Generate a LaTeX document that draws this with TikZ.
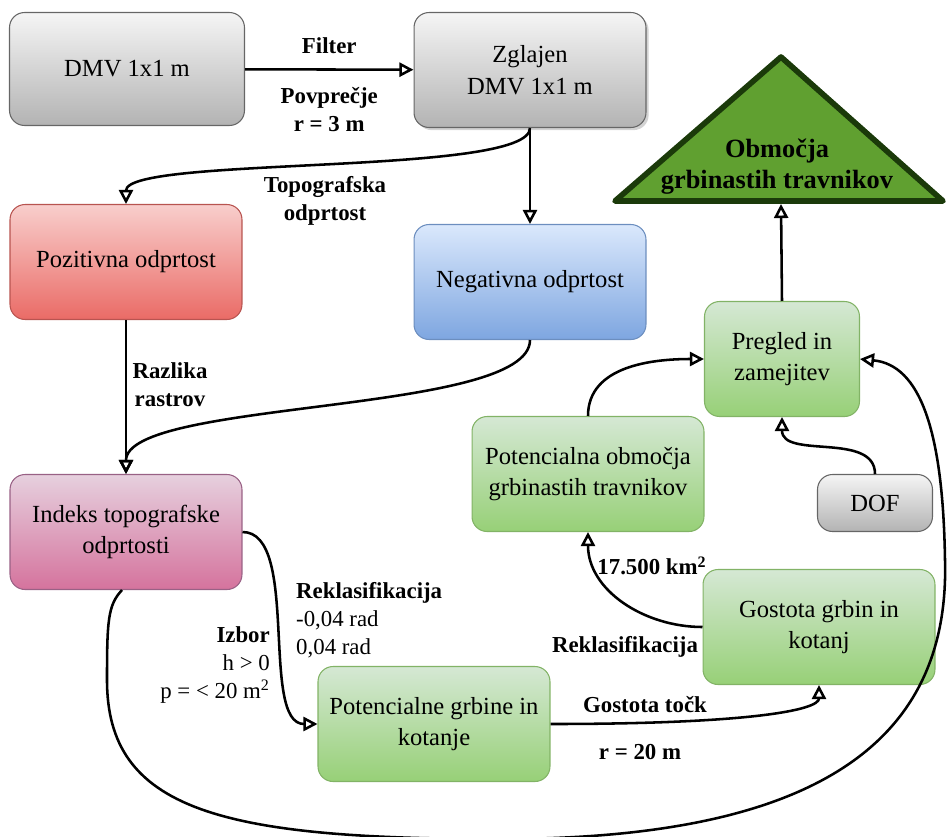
\documentclass[tikz,border=0pt]{standalone}
\usepackage{fontspec}
\setmainfont{Liberation Serif}
\usepackage{tikz}
\usetikzlibrary{arrows.meta, positioning, shadows}

\definecolor{grayTop}{HTML}{F5F5F5}
\definecolor{grayBot}{HTML}{B3B3B3}
\definecolor{grayLine}{HTML}{666666}
\definecolor{redTop}{HTML}{F8CECC}
\definecolor{redBot}{HTML}{EA6B66}
\definecolor{redLine}{HTML}{B85450}
\definecolor{blueTop}{HTML}{DAE8FC}
\definecolor{blueBot}{HTML}{7EA6E0}
\definecolor{blueLine}{HTML}{6C8EBF}
\definecolor{pinkTop}{HTML}{E6D0DE}
\definecolor{pinkBot}{HTML}{D5739D}
\definecolor{pinkLine}{HTML}{996185}
\definecolor{greenTop}{HTML}{D5E8D4}
\definecolor{greenBot}{HTML}{97D077}
\definecolor{greenLine}{HTML}{82B366}
\definecolor{goalFill}{HTML}{60A030}
\definecolor{goalLine}{HTML}{1B3A0A}

\tikzset{
    box/.style = {draw, rounded corners=0.3cm, line width=0.6pt,
        minimum width=4.64cm, minimum height=2.3cm, align=center,
        font=\fontsize{14}{18}\selectfont},
    graybox/.style = {box, draw=grayLine, top color=grayTop, bottom color=grayBot},
    redbox/.style = {box, draw=redLine, top color=redTop, bottom color=redBot},
    bluebox/.style = {box, draw=blueLine, top color=blueTop, bottom color=blueBot},
    pinkbox/.style = {box, draw=pinkLine, top color=pinkTop, bottom color=pinkBot},
    greenbox/.style = {box, draw=greenLine, top color=greenTop, bottom color=greenBot},
    lbl/.style = {font=\fontsize{13}{15.8}\selectfont\bfseries, align=center},
    txt/.style = {font=\fontsize{13}{15.8}\selectfont},
    flow/.style = {line width=1.45pt, -{Triangle[open, length=8pt, width=8pt]}},
}

\begin{document}
\begin{tikzpicture}[x=0.02cm, y=0.02cm]
    \useasboundingbox (0,0) rectangle (947,-836);

    \node (dmv) [graybox, minimum width=4.7cm, minimum height=2.26cm] at (127,-69) {DMV 1x1 m};
    \node (zg) [graybox, drop shadow={shadow xshift=1.5pt, shadow yshift=-1.5pt, opacity=0.35}] at (530,-70) {Zglajen\\DMV 1x1 m};
    \node (poz) [redbox] at (126,-262) {Pozitivna odprtost};
    \node (neg) [bluebox] at (530,-282) {Negativna odprtost};
    \node (ind) [pinkbox] at (126,-532) {Indeks topografske\\odprtosti};
    \node (pot) [greenbox] at (434,-724) {Potencialne grbine in\\kotanje};
    \node (gos) [greenbox] at (819,-627) {Gostota grbin in\\kotanj};
    \node (potob) [greenbox] at (588,-474) {Potencialna območja\\grbinastih travnikov};
    \node (preg) [greenbox, minimum width=3.1cm] at (782,-359) {Pregled in\\zamejitev};
    \node (dof) [graybox, minimum width=2.3cm, minimum height=1.14cm] at (875,-503) {DOF};

    \draw [fill=goalFill, draw=goalLine, line width=3.2pt, line join=round]
        (615,-201) -- (781,-57) -- (943,-201) -- cycle;
    \node (goal) [lbl, font=\fontsize{15}{17.6}\selectfont\bfseries] at (777,-167) {Območja\\grbinastih travnikov};
    \coordinate (goalbase) at (781,-204);

    \node (topo) [lbl] at (325,-201) {Topografska\\odprtost};
    \node (razl) [lbl] at (170,-385) {Razlika\\rastrov};
    \node (rekl) [txt, align=left, anchor=west] at (290,-620) {\textbf{Reklasifikacija}\\-0,04 rad\\0,04 rad};
    \node (izbor) [txt, align=right, anchor=east] at (276,-665) {\textbf{Izbor}\\h > 0\\p = < 20 m\textsuperscript{2}};
    \node (gtock) [lbl] at (645,-705) {Gostota točk};
    \node (rtw) [lbl] at (640,-752) {r = 20 m};
    \node (povr) [lbl] at (652,-566) {17.500 km\textsuperscript{2}};
    \node (rekl2) [lbl] at (625,-647) {Reklasifikacija};

\path [flow]
    (dmv) edge node [lbl, above=5pt] (filt) {Filter}
               node [lbl, below=6pt] (povp) {Povprečje\\r = 3 m} (zg)
    (zg.south) edge [out=-90, in=90, looseness=0.3] (poz.north)
    (zg.south) edge (neg.north)
    (poz) edge (ind)
    (neg.south) edge [out=-90, in=90, looseness=0.45] (ind.north)
    (ind.east) edge [out=0, in=180, looseness=0.72] (pot.west)
    (pot.east) edge [out=0, in=-90, out distance=4cm, in distance=0.5cm] (gos.south)
    (gos.west) edge [out=180, in=-90, looseness=1] (potob.south)
    (potob.north) edge [out=90, in=180, looseness=1] (preg.west)
    (dof.north) edge [out=90, in=-90, looseness=1] (preg.south)
    (preg.north) edge (goalbase);

\draw [flow] ([xshift=-0.08cm]ind.south) .. controls (108,-605) and (107,-620) .. (107,-680)
    .. controls (107,-810) and (220,-839) .. (500,-839)
    .. controls (820,-839) and (950,-740) .. (945,-560)
    .. controls (943,-430) and (920,-365) .. (preg.east);

\end{tikzpicture}
\end{document}
